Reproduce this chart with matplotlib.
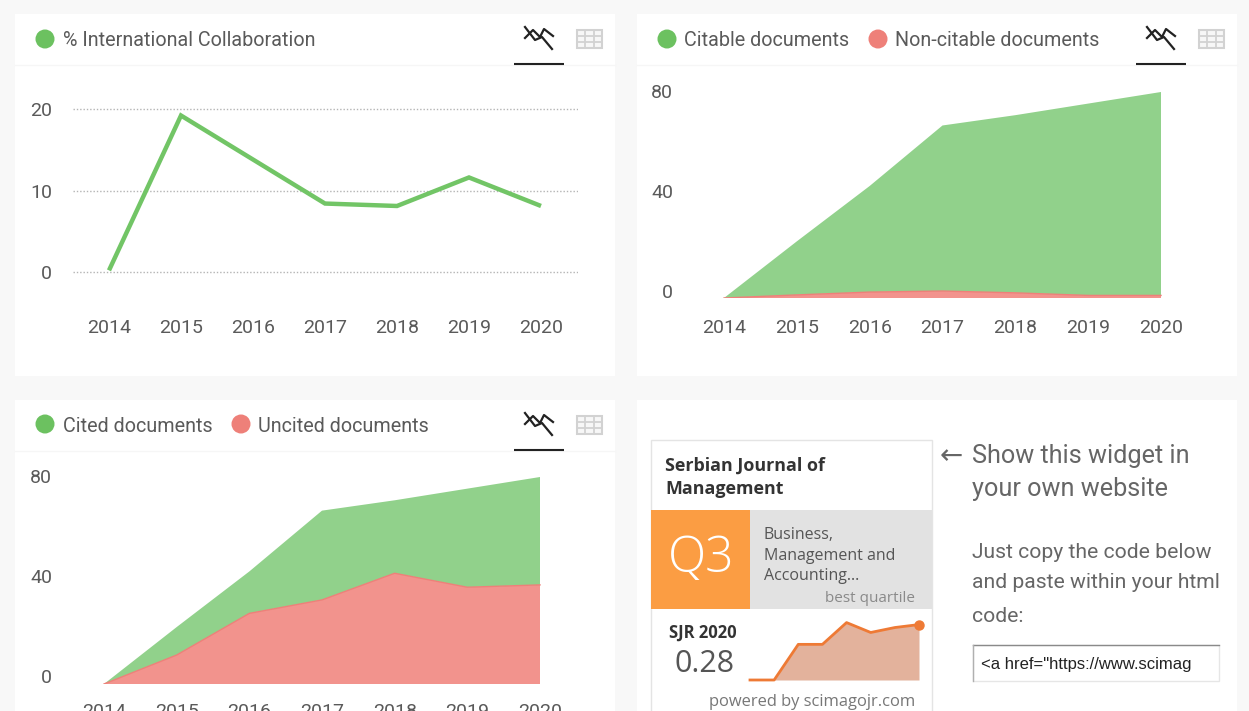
import matplotlib
matplotlib.use("Agg")
import matplotlib.pyplot as plt
from matplotlib.patches import Rectangle, Circle

plt.rcParams['font.family'] = ['Roboto', 'DejaVu Sans']

years = [2014, 2015, 2016, 2017, 2018, 2019, 2020]
collab = [0.2, 19.2, 13.8, 8.4, 8.1, 11.6, 8.1]
citable = [0, 20.8, 41.2, 64.3, 69, 74.5, 79]
non_citable = [0, 1.2, 2.3, 2.7, 2, 1, 1]
uncited = [0, 11.2, 27.3, 32.5, 42.8, 37.4, 38.3]
cited = [0, 10.8, 16.2, 34.5, 28.2, 38.1, 41.7]
widget_x = [0, 1, 2, 3, 4, 5, 6, 7]
widget_sjr = [0, 0, 0.18, 0.18, 0.29, 0.24, 0.265, 0.28]
yticks_a = [0, 10, 20]
yticks_b = [0, 40, 80]

W, H = 1249, 711
BG, TXT = '#f8f8f8', '#5a5a5a'
GREEN, RED = '#91d18b', '#f2938d'
DOT_G, DOT_R = '#6cc160', '#ee8079'
OS = ['Open Sans', 'DejaVu Sans']
fig = plt.figure(figsize=(W / 100, H / 100), dpi=100, facecolor=BG)
ov = fig.add_axes([0, 0, 1, 1], zorder=0)
ov.set_xlim(0, W); ov.set_ylim(H, 0); ov.axis('off')


def px_axes(l, t, r, b, z=2):
    a = fig.add_axes([l / W, 1 - b / H, (r - l) / W, (b - t) / H], zorder=z)
    a.patch.set_alpha(0)
    return a


def panel(x, y, w, h, header=True):
    ov.add_patch(Rectangle((x, y), w, h, fc='white', ec='none'))
    if header:
        ov.plot([x, x + w], [y + 51, y + 51], color='#f6f6f6', lw=1)
        ov.plot([x + 510, x + 520, x + 527, x + 537], [y + 13, y + 26, y + 23, y + 35], color='#222222', lw=1.6)
        ov.plot([x + 510, x + 518, x + 525, x + 529, x + 538], [y + 24, y + 16, y + 23, y + 15, y + 22], color='#222222', lw=1.6)
        ov.plot([x + 499, x + 549], [y + 50, y + 50], color='#222222', lw=1.5, solid_capstyle='butt')
        gx, gy = x + 562, y + 16
        ov.add_patch(Rectangle((gx, gy), 25, 18, fc='#f7f7f7', ec='#d2d2d2', lw=1.5))
        for d in (8.3, 16.6):
            ov.plot([gx + d, gx + d], [gy, gy + 18], color='#d2d2d2', lw=1.3)
        for d in (6, 12):
            ov.plot([gx, gx + 25], [gy + d, gy + d], color='#d2d2d2', lw=1.3)


def legend(items, y):
    for cx, tx, col, label in items:
        ov.add_patch(Circle((cx, y), 9.5, fc=col, ec='none'))
        ov.text(tx, y + 2, label, fontsize=14.2, color=TXT, va='center', ha='left')


def style(a, ticks, xpad):
    for s in a.spines.values():
        s.set_visible(False)
    a.set_xticks(years)
    a.set_yticks(ticks)
    a.tick_params(length=0, labelsize=14, labelcolor=TXT)
    a.tick_params(axis='x', pad=xpad)
    a.tick_params(axis='y', labelleft=False)


def ylabels(ticks, right, y0, per_unit):
    for v in ticks:
        ov.text(right, y0 + 2 - v * per_unit, str(v), fontsize=14, color=TXT, ha='right', va='center')


panel(15, 14, 600, 362)
panel(637, 14, 600, 362)
panel(15, 400, 600, 320)
panel(637, 400, 600, 320, header=False)

legend([(45, 63, DOT_G, '% International Collaboration')], 39)
legend([(667, 684, DOT_G, 'Citable documents'), (878, 895, DOT_R, 'Non-citable documents')], 39)
legend([(45, 63, DOT_G, 'Cited documents'), (241, 258, DOT_R, 'Uncited documents')], 424)

# chart 1: 2014 at x=109, 2020 at x=541; 0 at y=272, 20 at y=109
a1 = px_axes(73, 100, 578, 290)
a1.set_xlim(2014 - 36 / 72, 2020 + 37 / 72)
a1.set_ylim(-18 / 8.15, (272 - 100) / 8.15)
a1.plot(years, collab, color='#72c566', lw=3.2, solid_joinstyle='miter', solid_capstyle='butt')
style(a1, yticks_a, 21)
a1.grid(axis='y', color='#b4b4b4', lw=1, ls=(0, (1, 1.4)))
a1.set_axisbelow(True)
ylabels(yticks_a, 52, 272, 8.15)

# chart 2: 2014 at x=724, 2020 at x=1161; 0 at y=298, 80 at y=92
a2 = px_axes(680, 85, 1210, 298)
sx2 = (1161 - 724) / 6
a2.set_xlim(2014 - 44 / sx2, 2020 + 49 / sx2)
sy2 = (298 - 92) / 80
a2.set_ylim(0, (298 - 85) / sy2)
a2.stackplot(years, non_citable, citable, colors=[RED, GREEN], lw=0)
a2.plot(years, non_citable, color='#ee8079', lw=1)
style(a2, yticks_b, 15)
ylabels(yticks_b, 673, 291, 2.5)

# chart 3: 2014 at x=104, 2020 at x=540; 0 at y=684, 80 at y=477
a3 = px_axes(60, 470, 590, 684)
sx3 = (540 - 104) / 6
a3.set_xlim(2014 - 44 / sx3, 2020 + 50 / sx3)
sy3 = (684 - 477) / 80
a3.set_ylim(0, (684 - 470) / sy3)
a3.stackplot(years, uncited, cited, colors=[RED, GREEN], lw=0)
a3.plot(years, uncited, color='#ee8079', lw=1)
style(a3, yticks_b, 14)
ylabels(yticks_b, 52, 676, 2.5)

# widget
ov.add_patch(Rectangle((651, 440), 281, 290, fc='white', ec='#e4e4e4', lw=1))
ov.text(665, 466, 'Serbian Journal of', fontsize=12.9, fontweight='bold', color='#333333', va='center', family=OS)
ov.text(665, 489, 'Management', fontsize=12.9, fontweight='bold', color='#333333', va='center', family=OS)
ov.add_patch(Rectangle((651, 510), 99, 99, fc='#fb9d43', ec='none'))
ov.add_patch(Rectangle((750, 510), 182, 99, fc='#e2e2e2', ec='none'))
ov.text(701, 559, 'Q3', fontsize=36, color='white', ha='center', va='center', family=OS, fontweight='light')
for yy, t in zip((535, 556, 576), ('Business,', 'Management and', 'Accounting...')):
    ov.text(764, yy, t, fontsize=11.5, color='#555555', va='center', family=OS)
ov.text(915, 598, 'best quartile', fontsize=11, color='#8a8a8a', va='center', ha='right', family=OS)
ov.text(703, 633, 'SJR 2020', fontsize=12, fontweight='bold', color='#333333', va='center', ha='center', family=OS)
ov.text(705, 664, '0.28', fontsize=22, color='#555555', va='center', ha='center', family=OS)
ov.text(915, 702, 'powered by scimagojr.com', fontsize=11.9, color='#777777', va='center', ha='right', family=OS)

a4 = px_axes(750, 615, 919, 680)
a4.axis('off')
a4.set_xlim(0, 7)
a4.set_ylim(0, 65 / 198)
a4.fill_between(widget_x, widget_sjr, color='#e3b29c', lw=0)
a4.plot(widget_x, widget_sjr, color='#ee7a35', lw=2, clip_on=False)
a4.plot(widget_x[-1:], widget_sjr[-1:], 'o', color='#ee7a35', ms=6.5, clip_on=False)

ov.text(940, 456, '\u2190', fontsize=20, color='#666666', va='center', family=['DejaVu Sans'])
ov.text(972, 456, 'Show this widget in', fontsize=18.2, color='#666666', va='center')
ov.text(972, 489, 'your own website', fontsize=18.2, color='#666666', va='center')
for yy, t in zip((552, 583, 616), ('Just copy the code below', 'and paste within your html', 'code:')):
    ov.text(972, yy, t, fontsize=15.2, color='#666666', va='center')
ov.add_patch(Rectangle((973, 645), 246, 36, fc='white', ec='#e6e6e6', lw=1))
ov.plot([973, 1219], [645, 645], color='#8a8a8a', lw=1)
ov.plot([973, 973], [645, 681], color='#b0b0b0', lw=1)
ov.text(981, 664, '<a href="https://www.scimag', fontsize=12, color='#222222', va='center', family=['Liberation Sans', 'DejaVu Sans'])

fig.savefig('out.png', dpi=100, facecolor=BG)
